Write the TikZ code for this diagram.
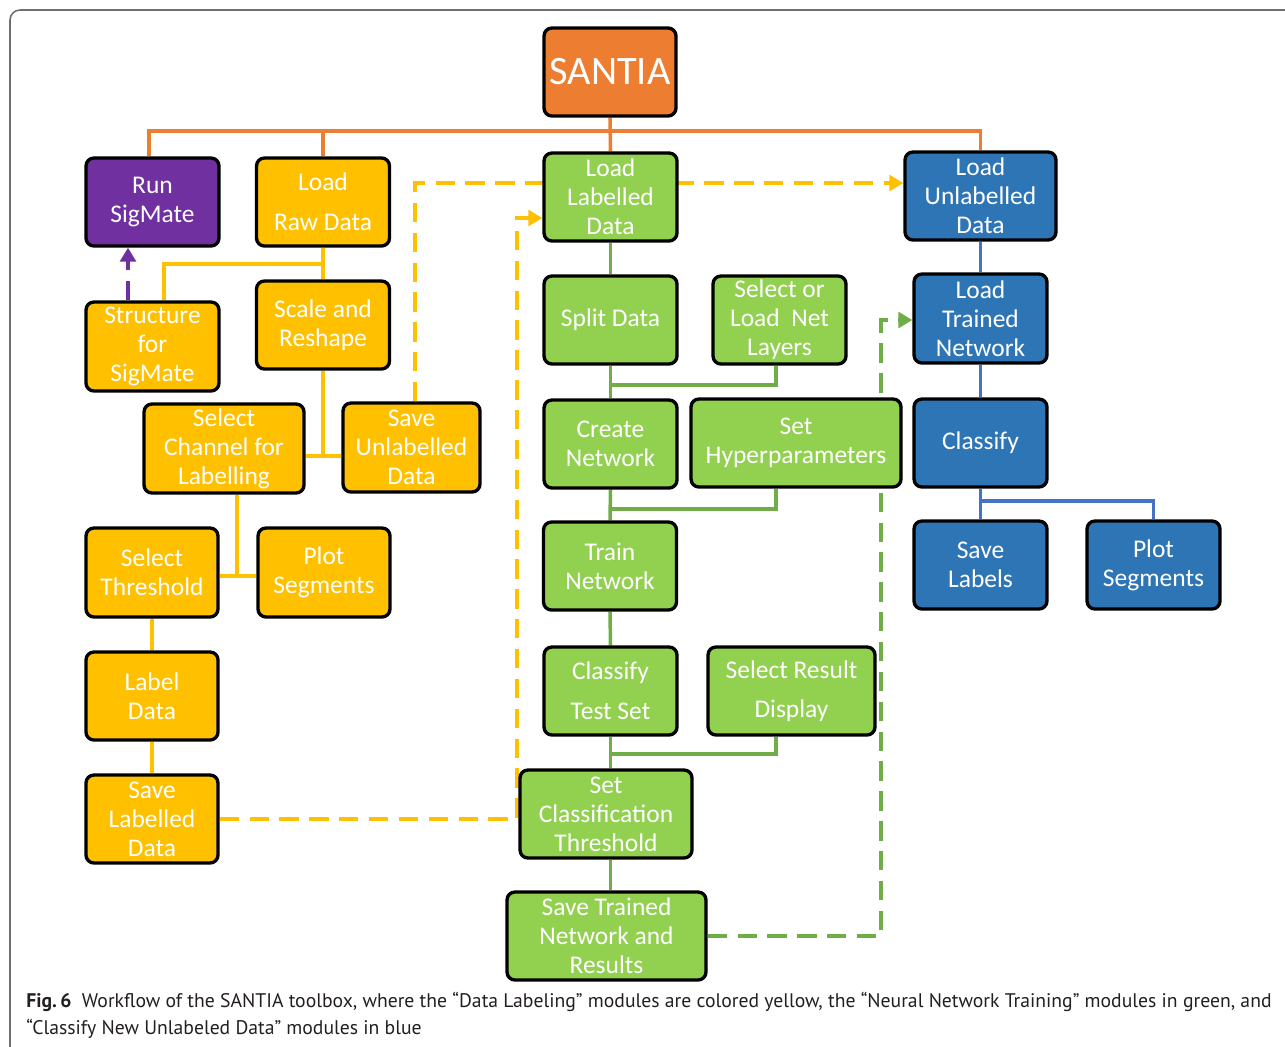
\documentclass[tikz,border=0pt]{standalone}
\usepackage{fontspec}
\setmainfont{Carlito}
\newfontfamily\capfont{PT Sans}
\usetikzlibrary{arrows.meta,backgrounds}
\definecolor{santiaorange}{HTML}{ED7D31}
\definecolor{sigpurple}{HTML}{7030A0}
\definecolor{labyellow}{HTML}{FFC000}
\definecolor{netgreen}{HTML}{92D050}
\definecolor{linkgreen}{HTML}{70AD47}
\definecolor{unlblue}{HTML}{2E75B6}
\definecolor{linkblue}{HTML}{4472C4}
\definecolor{framegray}{HTML}{6E6E6E}
\definecolor{captext}{HTML}{231F20}

\begin{document}
\begin{tikzpicture}[x=0.02cm, y=-0.02cm, >={Triangle[length=8pt,width=9pt]},
	box/.style={rectangle, rounded corners=4.5pt, draw=black, line width=1.9pt,
		minimum width=2.66cm, minimum height=1.76cm, align=center, text=white,
		inner sep=1pt, font=\fontsize{14.5}{16.5}\selectfont},
	orangebox/.style={box, fill=santiaorange},
	purplebox/.style={box, fill=sigpurple},
	yellowbox/.style={box, fill=labyellow},
	greenbox/.style={box, fill=netgreen},
	bluebox/.style={box, fill=unlblue},
	link/.style={line width=2pt},
	dashlink/.style={line width=2pt, dash pattern=on 11pt off 6pt}]
	\useasboundingbox (0,0) rectangle (1285,1046);
	\draw[framegray, line width=0.9pt, rounded corners=0.2cm] (10,1080) -- (10,10) -- (1310,10);

	\node[orangebox, minimum width=2.64cm, font=\fontsize{23}{26}\selectfont] (santia) at (610,72) {SANTIA};

	\node[purplebox] (runsig) at (152.5,202) {Run\\SigMate};
	\node[yellowbox] (loadraw) at (323,202) {Load\\[6pt]Raw Data};
	\node[yellowbox, minimum height=1.78cm] (struct) at (152.5,346.5) {Structure\\for\\SigMate};
	\node[yellowbox] (scale) at (323,325) {Scale and\\Reshape};
	\node[yellowbox, minimum width=3.2cm, minimum height=1.78cm] (selchan) at (224,448.5) {Select\\Channel for\\Labelling};
	\node[yellowbox, minimum width=2.74cm, minimum height=1.78cm] (saveunl) at (411.5,447.5) {Save\\Unlabelled\\Data};
	\node[yellowbox, minimum width=2.64cm, minimum height=1.78cm] (selthr) at (152,572.5) {Select\\Threshold};
	\node[yellowbox, minimum width=2.64cm, minimum height=1.78cm] (plotY) at (324,572.5) {Plot\\Segments};
	\node[yellowbox, minimum width=2.64cm] (labdata) at (152,696) {Label\\Data};
	\node[yellowbox, minimum width=2.64cm] (savelab) at (152,819) {Save\\Labelled\\Data};

	\node[greenbox] (loadlab) at (610.5,197) {Load\\Labelled\\Data};
	\node[greenbox] (split) at (610.5,320) {Split Data};
	\node[greenbox] (selnet) at (779.5,320) {Select or\\Load~ Net\\Layers};
	\node[greenbox] (create) at (610.5,444) {Create\\Network};
	\node[greenbox, minimum width=4.2cm] (sethyp) at (796,443) {Set\\Hyperparameters};
	\node[greenbox] (train) at (610,566) {Train\\Network};
	\node[greenbox] (clstest) at (610.5,691) {Classify\\[6pt]Test Set};
	\node[greenbox, minimum width=3.34cm] (selres) at (791.5,691) {Select Result\\[6pt]Display};
	\node[greenbox, minimum width=3.44cm] (setthr) at (606,814) {Set\\Classification\\Threshold};
	\node[greenbox, minimum width=3.98cm] (savetr) at (606.5,936) {Save Trained\\Network and\\Results};

	\node[bluebox, minimum width=3.02cm] (loadunl) at (980.5,196) {Load\\Unlabelled\\Data};
	\node[bluebox, minimum height=1.78cm] (loadtr) at (980.5,318.5) {Load\\Trained\\Network};
	\node[bluebox] (classify) at (980.5,443) {Classify};
	\node[bluebox] (savelbl) at (980.5,565) {Save\\Labels};
	\node[bluebox] (plotB) at (1153.5,565) {Plot\\Segments};

	\coordinate (obus) at (610,131);
	\coordinate (ysplit) at (323,264);
	\coordinate (ystruct) at (164,264);
	\coordinate (yjoin) at (323,456);
	\coordinate (ychan) at (237,576);
	\coordinate (ytop) at (415,183);
	\coordinate (ybot) at (517,218);
	\coordinate (parrow) at (128,0);
	\coordinate (g1) at (610,385);
	\coordinate (g2) at (610,509);
	\coordinate (g3) at (610,754);
	\coordinate (gtop) at (881,320);
	\coordinate (bjoin) at (981,501);

	\begin{scope}[on background layer]
		\draw[link, santiaorange] (santia.south) -- (loadlab.north);
		\draw[link, santiaorange] (runsig.north -| 149,0) |- (obus) -| (loadunl.north);
		\draw[link, santiaorange] (loadraw.north) -- (loadraw.north |- obus);

		\draw[link, labyellow] (loadraw.south) -- (scale.north);
		\draw[link, labyellow] (ysplit) -- (ystruct) -- (struct.north -| ystruct);
		\draw[link, labyellow] (scale.south) -- (yjoin);
		\draw[link, labyellow] (selchan.east |- yjoin) -- (saveunl.west |- yjoin);
		\draw[link, labyellow] (selchan.south -| ychan) -- (ychan);
		\draw[link, labyellow] (selthr.east |- ychan) -- (plotY.west |- ychan);
		\draw[link, labyellow] (selthr.south) -- (labdata.north);
		\draw[link, labyellow] (labdata.south) -- (savelab.north);
		\draw[dashlink, labyellow, ->] (saveunl.north -| ytop) -- (ytop) -- (loadunl.west |- ytop);
		\draw[dashlink, labyellow, ->] (savelab.east) -| (ybot) -- (loadlab.west |- ybot);

		\draw[dashlink, sigpurple, ->] (struct.north -| parrow) -- (runsig.south -| parrow);

		\draw[link, linkgreen] (loadlab.south) -- (split.north);
		\draw[link, linkgreen] (split.south) -- (create.north);
		\draw[link, linkgreen] (create.south) -- (train.north);
		\draw[link, linkgreen] (train.south) -- (clstest.north);
		\draw[link, linkgreen] (clstest.south) -- (clstest.south |- setthr.north);
		\draw[link, linkgreen] (clstest.south |- setthr.south) -- (clstest.south |- savetr.north);
		\draw[link, linkgreen] (selnet.south -| 776,0) |- (g1);
		\draw[link, linkgreen] (sethyp.south -| 776,0) |- (g2);
		\draw[link, linkgreen] (selres.south -| 776,0) |- (g3);
		\draw[dashlink, linkgreen, ->] (savetr.east) -| (gtop) -- (loadtr.west |- gtop);

		\draw[link, linkblue] (loadunl.south) -- (loadtr.north);
		\draw[link, linkblue] (loadtr.south) -- (classify.north);
		\draw[link, linkblue] (classify.south) -- (savelbl.north);
		\draw[link, linkblue] (bjoin) -| (plotB.north);
	\end{scope}

	\node[anchor=north west, align=left, inner sep=0pt, text=captext,
		font=\capfont\fontsize{11.2}{15.4}\selectfont] (caption) at (26,992)
		{\textbf{Fig.\,6}\ \ Workflow of the SANTIA toolbox, where the “Data Labeling” modules are colored yellow, the “Neural Network Training” modules in green, and\\
		“Classify New Unlabeled Data” modules in blue};
\end{tikzpicture}
\end{document}
